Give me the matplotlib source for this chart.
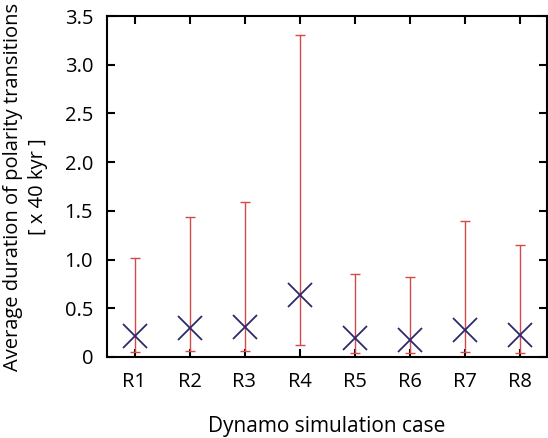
import matplotlib
matplotlib.use("Agg")
import matplotlib.pyplot as plt

# case labels and values
cases = ["R1", "R2", "R3", "R4", "R5", "R6", "R7", "R8"]
mean_dur = [0.215, 0.30, 0.31, 0.64, 0.19, 0.175, 0.28, 0.225]
min_dur = [0.05, 0.06, 0.06, 0.12, 0.045, 0.04, 0.05, 0.045]
max_dur = [1.02, 1.44, 1.59, 3.30, 0.85, 0.82, 1.40, 1.15]

plt.rcParams["font.family"] = ["Open Sans", "DejaVu Sans"]

fig = plt.figure(figsize=(5.48, 4.38), dpi=100)
ax = fig.add_axes([107 / 548, 1 - 357 / 438, 440 / 548, 341 / 438])

x = list(range(1, len(cases) + 1))
lo = [m - a for m, a in zip(mean_dur, min_dur)]
hi = [b - m for m, b in zip(mean_dur, max_dur)]
ax.errorbar(x, mean_dur, yerr=[lo, hi], fmt="none", ecolor="#d44a4a",
            elinewidth=1.0, capsize=3.6, capthick=1.0, zorder=2)
ax.plot(x, mean_dur, "x", color="#2b2a6b", markersize=17, mew=1.3, zorder=3)

ax.set_xlim(0.5, 8.5)
ax.set_ylim(0, 3.5)
ax.set_xticks(x)
ax.set_xticklabels(cases)
ax.set_yticks([0, 0.5, 1.0, 1.5, 2.0, 2.5, 3.0, 3.5])
ax.set_yticklabels(["0", "0.5", "1.0", "1.5", "2.0", "2.5", "3.0", "3.5"])
ax.tick_params(direction="in", length=6, width=1.5, labelsize=14.5,
               top=True, right=True)
ax.tick_params(axis="x", pad=11)
ax.tick_params(axis="y", pad=10)
for s in ax.spines.values():
    s.set_linewidth(1.5)

ax.set_xlabel("Dynamo simulation case", fontsize=15, va="center")
ax.xaxis.set_label_coords(0.5, -0.205)
ax.set_ylabel("Average duration of polarity transitions\n[ x 40 kyr ]",
              fontsize=14.5, linespacing=1.3, va="center", ha="center")
ax.yaxis.set_label_coords(-0.185, 0.5)

fig.savefig("out.png", dpi=100)
